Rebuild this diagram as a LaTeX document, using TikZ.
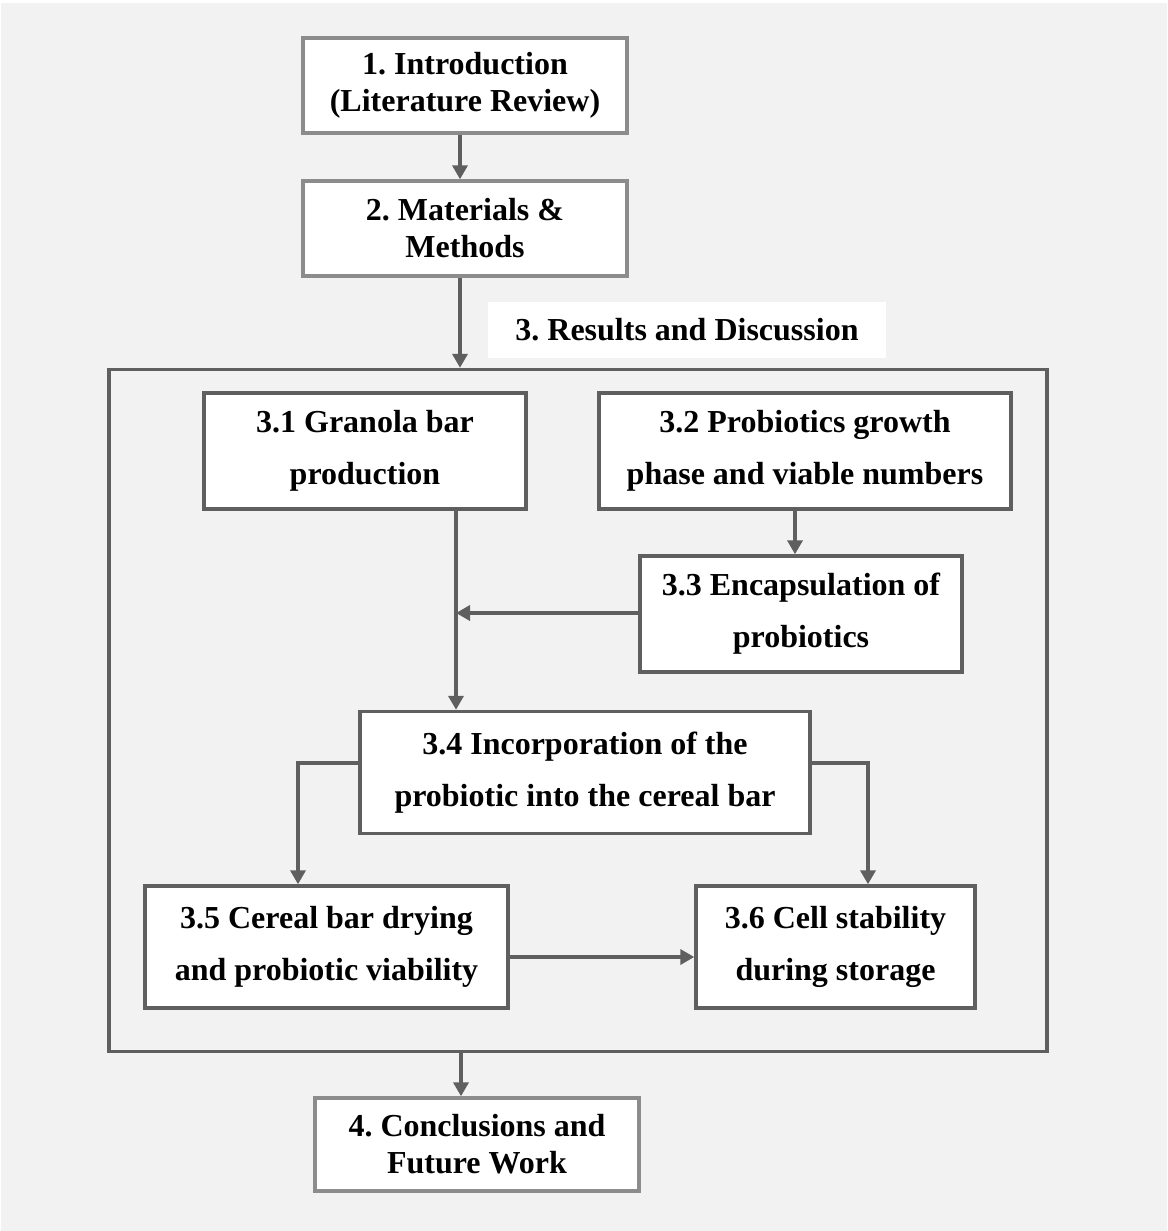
\documentclass[tikz,border=0pt]{standalone}
\usepackage{fontspec}
\setmainfont{Liberation Serif}
\usetikzlibrary{arrows.meta}
\frenchspacing

\definecolor{bggray}{HTML}{F2F2F2}
\definecolor{edgegray}{HTML}{8C8C8C}
\definecolor{linegray}{HTML}{5F5F5F}

\tikzset{
  chapter/.style={draw=edgegray, line width=1.7pt, fill=white, inner sep=0pt,
    align=center, font=\fontsize{16pt}{18.5pt}\selectfont\bfseries},
  section/.style={draw=linegray, line width=1.7pt, fill=white, inner sep=0pt,
    align=center, font=\fontsize{16pt}{26pt}\selectfont\bfseries},
  conn/.style={draw=linegray, line width=1.8pt,
    -{Triangle[width=7.5pt,length=7pt]}},
}

\begin{document}
\begin{tikzpicture}[line cap=butt,line join=miter,x=0.5pt,y=-0.5pt]
			\useasboundingbox (0,0) rectangle (1167,1231);
			\fill [white] (0,0) rectangle (1167,1231);
			\fill [bggray] (1,3) rectangle (1167,1231);

			% Chapters
			\node [chapter, minimum width=162pt, minimum height=47.5pt] (intro) at (465,85.5) {1. Introduction\\(Literature Review)};
			\node [chapter, minimum width=162pt, minimum height=47.5pt] (methods) at (465,228.5) {2. Materials \&\\Methods};
			\node [fill=white, inner sep=0pt, minimum width=199pt, minimum height=28pt,
				font=\fontsize{16pt}{18.5pt}\selectfont\bfseries] (results) at (687,330) {3. Results and Discussion};
			\node [draw=linegray, line width=1.7pt, inner sep=0pt, minimum width=469pt, minimum height=341pt] (frame) at (578,710.5) {};
			\node [chapter, minimum width=162pt, minimum height=46.5pt] (concl) at (477,1144.5) {4. Conclusions and\\Future Work};

			% Sections of chapter 3
			\node [section, minimum width=161pt, minimum height=58pt] (granola) at (365,451) {3.1 Granola bar\\production};
			\node [section, minimum width=206pt, minimum height=58pt] (growth) at (805,451) {3.2 Probiotics growth\\phase and viable numbers};
			\node [section, minimum width=161pt, minimum height=58pt] (encap) at (801,614) {3.3 Encapsulation of\\probiotics};
			\node [section, minimum width=225pt, minimum height=61pt] (incorp) at (585,772.5) {3.4 Incorporation of the\\probiotic into the cereal bar};
			\node [section, minimum width=181.5pt, minimum height=61pt] (drying) at (326.5,947) {3.5 Cereal bar drying\\and probiotic viability};
			\node [section, minimum width=139.5pt, minimum height=61pt] (storage) at (835.5,947) {3.6 Cell stability\\during storage};

			% Connector positions
			\coordinate (spine) at (460,0);
			\coordinate (merge) at (456,613);
			\coordinate (split) at (795,0);
			\coordinate (ldrop) at (298,763);
			\coordinate (rdrop) at (868,763);
			\coordinate (dry) at (0,957);
			\coordinate (exit) at (461,0);

			% Arrows
			\draw [conn] (intro.south -| spine) -- (methods.north -| spine);
			\draw [conn] (methods.south -| spine) -- (frame.north -| spine);
			\draw [conn] (granola.south -| merge) -- (incorp.north -| merge);
			\draw [conn] (growth.south -| split) -- (encap.north -| split);
			\draw [conn] (encap.west |- merge) -- (merge);
			\draw [conn] (incorp.west |- ldrop) -- (ldrop) -- (ldrop |- drying.north);
			\draw [conn] (incorp.east |- rdrop) -- (rdrop) -- (rdrop |- storage.north);
			\draw [conn] (drying.east |- dry) -- (storage.west |- dry);
			\draw [conn] (frame.south -| exit) -- (concl.north -| exit);
		\end{tikzpicture}
\end{document}
